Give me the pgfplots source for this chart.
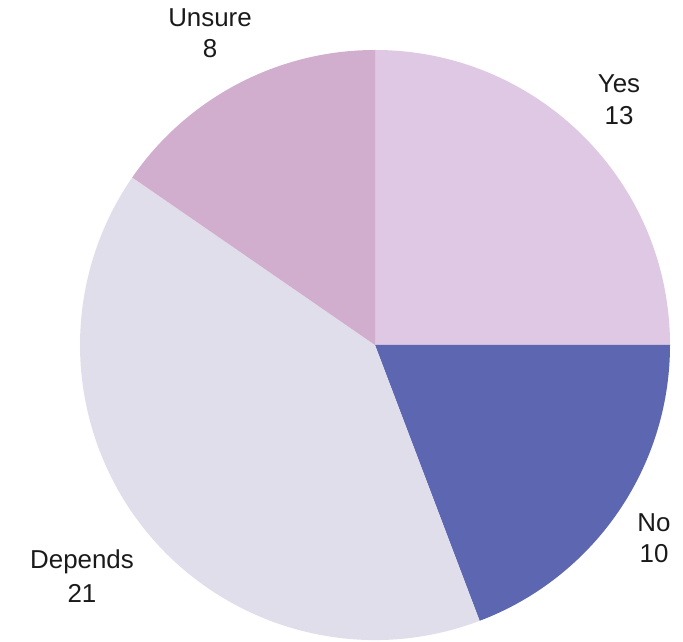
\documentclass[border=0pt]{standalone}
\usepackage{pgfplots}
\pgfplotsset{compat=1.18}
\usepackage{fontspec}
\setmainfont{Liberation Sans}
\definecolor{cYes}{HTML}{DEC8E3}
\definecolor{cNo}{HTML}{5D66B1}
\definecolor{cDep}{HTML}{E1DEEC}
\definecolor{cUns}{HTML}{D1ADCE}
\definecolor{txt}{HTML}{1A1A1A}
% values
\def\vYes{13}\def\vNo{10}\def\vDep{21}\def\vUns{8}
\begin{document}
\begin{tikzpicture}
\pgfmathsetmacro\tot{\vYes+\vNo+\vDep+\vUns}
\pgfmathsetmacro\aA{90}
\pgfmathsetmacro\aB{\aA-360*\vYes/\tot}
\pgfmathsetmacro\aC{\aB-360*\vNo/\tot}
\pgfmathsetmacro\aD{\aC-360*\vDep/\tot}
\pgfmathsetmacro\aE{\aD-360*\vUns/\tot}
\begin{axis}[
  width=683bp, height=642bp, scale only axis,
  xmin=0, xmax=683, ymin=0, ymax=642,
  hide axis, clip=false,
]
\def\cx{375}\def\cy{297}\def\R{295}
\fill[cYes] (axis cs:\cx,\cy) -- ++(\aA:\R bp) arc[start angle=\aA, end angle=\aB, radius=\R bp] -- cycle;
\fill[cNo] (axis cs:\cx,\cy) -- ++(\aB:\R bp) arc[start angle=\aB, end angle=\aC, radius=\R bp] -- cycle;
\fill[cDep] (axis cs:\cx,\cy) -- ++(\aC:\R bp) arc[start angle=\aC, end angle=\aD, radius=\R bp] -- cycle;
\fill[cUns] (axis cs:\cx,\cy) -- ++(\aD:\R bp) arc[start angle=\aD, end angle=\aE, radius=\R bp] -- cycle;
\tikzset{lab/.style={anchor=base, inner sep=0pt, text=txt, font=\fontsize{26}{30}\selectfont}}
\node[lab] at (axis cs:210,615) {Unsure};
\node[lab] at (axis cs:210,584) {\vUns};
\node[lab] at (axis cs:619,549) {Yes};
\node[lab] at (axis cs:619,517) {\vYes};
\node[lab] at (axis cs:654,110) {No};
\node[lab] at (axis cs:654,80) {\vNo};
\node[lab] at (axis cs:82,74) {Depends};
\node[lab] at (axis cs:82,40) {\vDep};
\end{axis}
\pgfresetboundingbox
\useasboundingbox (current axis.south west) rectangle (current axis.north east);
\end{tikzpicture}
\end{document}
